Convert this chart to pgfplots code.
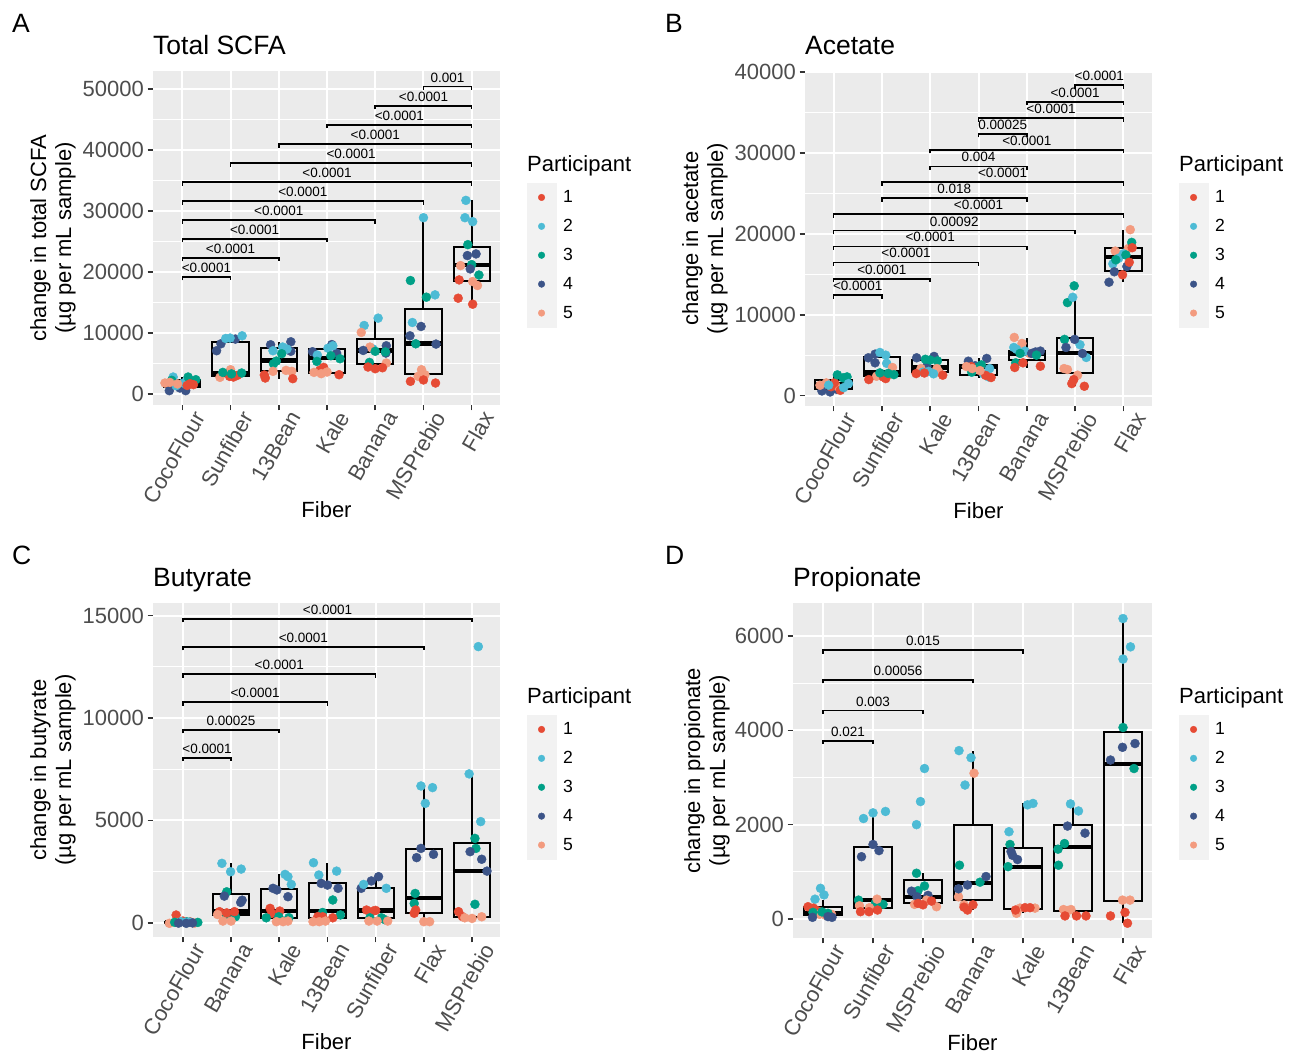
\documentclass[border=0pt]{standalone}
\usepackage{pgfplots}
\pgfplotsset{compat=1.18}
\usepackage{fontspec}
\setmainfont{Liberation Sans}

\definecolor{c1}{HTML}{E64B35}
\definecolor{c2}{HTML}{4DBBD5}
\definecolor{c3}{HTML}{00A087}
\definecolor{c4}{HTML}{3C5488}
\definecolor{c5}{HTML}{F39B7F}
\definecolor{ggpanel}{HTML}{EBEBEB}
\definecolor{ggkey}{HTML}{F2F2F2}
\definecolor{gg20}{HTML}{333333}
\definecolor{gg30}{HTML}{4D4D4D}

\newcommand\tickfont{\fontsize{22}{22}\selectfont}
\newcommand\labfont{\fontsize{22}{25}\selectfont}
\newcommand\titfont{\fontsize{26.5}{30}\selectfont}
\newcommand\legfont{\fontsize{17.6}{20}\selectfont}
\newcommand\brfont{\fontsize{13.5}{15}\selectfont}

% box: centre, left, right, lower whisker, lower quartile, median, upper quartile, upper whisker
\newcommand\bx[8]{%
  \addplot[black, line width=2pt] coordinates {(#1,#4) (#1,#5)};
  \addplot[black, line width=2pt] coordinates {(#1,#7) (#1,#8)};
  \addplot[black, line width=2pt, line join=miter] coordinates {(#2,#5) (#3,#5) (#3,#7) (#2,#7)} -- cycle;
  \addplot[black, line width=4.4pt] coordinates {(#2,#6) (#3,#6)};}
% significance bracket: from, to, height, label
\newcommand\br[4]{\draw[black, line width=1.6pt] (axis cs:#1,#3) ++(0pt,-3.5pt)
  -- (axis cs:#1,#3) -- node[above, inner sep=3.5pt, font=\brfont] {#4}
  (axis cs:#2,#3) -- ++(0pt,-3.5pt);}
\newcommand\legimgs{%
  \addlegendimage{c1}\addlegendimage{c2}\addlegendimage{c3}%
  \addlegendimage{c4}\addlegendimage{c5}}

\pgfplotsset{
  gg/.style={
    scale only axis, anchor=south west, clip=false, enlargelimits=false,
    axis background/.style={fill=ggpanel},
    axis line style={draw=none},
    tick pos=left, tick align=outside,
    major tick length=5.5pt, minor tick length=0pt,
    major tick style={gg20, line width=1.6pt},
    minor tick style={draw=none},
    xmajorgrids, ymajorgrids, yminorgrids,
    major grid style={white, line width=2pt},
    minor grid style={white, line width=1pt},
    minor y tick num=1,
    xtick={1,...,7},
    scaled y ticks=false,
    /pgf/number format/1000 sep={},
    /pgf/number format/assume math mode=true,
    tick label style={font=\tickfont, text=gg30},
    y tick label style={inner sep=3.5pt},
    x tick label style={xshift=9pt, yshift=4pt, rotate=60, anchor=north east, inner sep=2pt},
    title style={at={(axis description cs:0,1)}, anchor=base west,
      yshift=10pt, inner sep=0pt, font=\titfont},
    xlabel={Fiber},
    xlabel style={at={(axis description cs:0.5,0)}, anchor=base,
      yshift=-113pt, inner sep=0pt, font=\labfont},
    ylabel style={anchor=south, inner sep=0pt, align=center, font=\labfont},
    legend style={draw=none, fill=none, inner sep=0pt, outer sep=0pt,
      row sep=0pt, column sep=7pt, font=\legfont,
      at={(axis description cs:1,1)}, anchor=north west,
      xshift=27pt, yshift=-112pt, nodes={inner sep=0pt}, cells={anchor=west}},
    legend image code/.code={
      \fill[ggkey] (0pt,-14.25pt) rectangle (28.7pt,14.25pt);
      \path plot[mark=*, mark size=3.3pt] coordinates {(14.35pt,0pt)};},
  },
  ggpts/.style={scatter, only marks, mark=*, mark size=4.5pt,
    scatter src=explicit symbolic,
    scatter/classes={1={c1},2={c2},3={c3},4={c4},5={c5}}},
}

\begin{document}
\begin{tikzpicture}
\useasboundingbox (0,0) rectangle (1291pt,1054pt);

% ---------------- A: Total SCFA ----------------
\begin{axis}[gg, at={(153pt,649pt)}, width=347pt, height=334pt,
  xmin=0.392, xmax=7.587, ymin=-1803, ymax=52950,
  ytick={0,10000,...,50000},
  xticklabels={CocoFlour,Sunfiber,13Bean,Kale,Banana,MSPrebio,Flax},
  title={Total SCFA},
  ylabel={change in total SCFA\\(µg per mL sample)},
  ylabel style={at={(axis description cs:-0.222,0.5)}}]
\legimgs
\bx{1}{0.625}{1.375}{545}{1090}{1690}{2345}{2780}
\bx{2}{1.625}{2.375}{2730}{3000}{3330}{8450}{9540}
\bx{3}{2.625}{3.375}{2510}{3710}{5510}{7470}{8560}
\bx{4}{3.625}{4.375}{3160}{3440}{5940}{7360}{8100}
\bx{5}{4.625}{5.375}{4140}{4960}{7140}{9000}{12430}
\bx{6}{5.625}{6.375}{1800}{3330}{8290}{13900}{28900}
\bx{7}{6.625}{7.375}{14720}{18490}{21100}{24050}{31740}
\addplot[ggpts] table[meta=p] {
x y p
0.73 545 4
1.07 545 4
0.95 980 4
0.81 2780 2
0.87 1360 2
1.02 1800 2
1.12 2780 3
1.28 2345 3
0.78 2240 3
1.23 1530 1
1.16 1690 1
1.10 1400 1
0.64 1800 5
0.74 1900 5
0.90 1650 5
1.71 7090 4
1.80 8230 4
2.10 9000 4
1.90 9100 2
2.24 9540 2
1.99 9160 2
1.78 2730 5
2.00 3980 5
2.09 3000 5
1.98 2890 1
2.06 2780 1
2.14 3050 1
2.23 3440 3
1.84 3540 3
2.02 3300 3
2.83 8070 4
3.25 8560 4
3.25 7000 4
2.88 7090 2
3.17 7360 2
3.08 7700 2
3.06 6600 3
2.89 4960 3
2.95 5400 3
2.88 3710 5
3.15 3870 5
3.27 3710 5
2.72 2620 1
2.70 3110 1
3.29 2510 1
3.70 6930 4
4.10 8100 4
4.20 6700 4
3.80 6380 2
4.12 7900 2
4.02 7500 2
4.08 6270 3
4.27 5780 3
3.79 5340 3
3.93 4360 1
4.25 3160 1
3.85 3900 1
3.73 3540 5
3.88 3330 5
4.00 3600 5
5.06 12430 2
4.77 11230 2
4.95 7400 2
4.71 10090 5
4.89 7690 5
5.23 5070 5
4.75 7140 4
5.23 7900 4
5.22 6710 4
4.88 5180 3
5.21 6900 3
5.00 7000 3
4.85 4420 1
5.00 4140 1
5.15 4300 1
6.00 28900 2
6.24 16250 2
5.77 11720 2
5.73 18600 3
6.06 15870 3
5.84 8230 3
5.95 11070 4
5.72 9540 4
6.26 8180 4
5.96 3980 5
5.89 2890 5
6.03 3160 5
5.73 2070 1
6.25 1800 1
6.00 2300 1
6.88 31740 2
6.86 28900 2
7.02 28250 2
6.92 24480 3
7.00 21210 3
7.15 19500 3
6.91 22690 4
7.09 22960 4
6.97 20500 4
6.77 21050 5
7.02 18430 5
7.12 17780 5
6.74 18700 1
6.72 15700 1
7.02 14720 1
};
\br{1}{2}{19195}{<0.0001}
\br{1}{3}{22300}{<0.0001}
\br{1}{4}{25410}{<0.0001}
\br{1}{5}{28520}{<0.0001}
\br{1}{6}{31630}{<0.0001}
\br{1}{7}{34740}{<0.0001}
\br{2}{7}{37840}{<0.0001}
\br{3}{7}{40950}{<0.0001}
\br{4}{7}{44110}{<0.0001}
\br{5}{7}{47220}{<0.0001}
\br{6}{7}{50390}{0.001}
\legend{1,2,3,4,5}
\end{axis}

% ---------------- B: Acetate ----------------
\begin{axis}[gg, at={(805pt,648pt)}, width=347pt, height=335pt,
  xmin=0.41, xmax=7.59, ymin=-1280, ymax=40160,
  ytick={0,10000,...,40000},
  xticklabels={CocoFlour,Sunfiber,Kale,13Bean,Banana,MSPrebio,Flax},
  title={Acetate},
  ylabel={change in acetate\\(µg per mL sample)},
  ylabel style={at={(axis description cs:-0.222,0.5)}}]
\legimgs
\bx{1}{0.625}{1.375}{455}{790}{1410}{1990}{2570}
\bx{2}{1.625}{2.375}{1990}{2400}{2860}{4720}{5340}
\bx{3}{2.625}{3.375}{2530}{2940}{3480}{4390}{4850}
\bx{4}{3.625}{4.375}{2240}{2530}{3560}{3770}{4600}
\bx{5}{4.625}{5.375}{3480}{4390}{5220}{5550}{7080}
\bx{6}{5.625}{6.375}{1160}{2820}{5300}{7080}{12170}
\bx{7}{6.625}{7.375}{14030}{15480}{17140}{18260}{20530}
\addplot[ggpts] table[meta=p] {
x y p
0.76 580 4
0.93 455 4
1.07 780 4
0.85 1570 5
0.72 1280 5
1.05 1200 5
1.14 660 1
1.02 1600 1
0.95 1100 1
1.08 2570 3
1.28 2320 3
1.20 2200 3
1.21 990 2
1.31 1490 2
0.90 1300 2
1.72 4680 4
1.86 5130 4
1.86 4060 4
1.96 5340 2
2.08 5010 2
2.10 4000 2
2.22 3480 5
1.89 2400 5
2.17 2650 5
1.73 1990 1
2.08 2110 1
2.03 2300 1
1.96 2820 3
2.13 2750 3
2.25 2600 3
2.72 4680 4
3.08 4850 4
2.93 3640 4
2.90 4500 3
3.00 4400 3
3.15 4300 3
2.81 3350 5
3.14 3350 5
3.18 2900 5
2.97 3000 2
3.07 2700 2
2.85 2900 2
2.71 2730 1
3.26 2530 1
2.88 2800 1
3.79 4260 4
4.17 4600 4
3.93 3700 4
4.06 3800 3
3.99 3500 3
3.86 2900 3
4.23 3350 2
4.21 2320 2
4.10 2700 2
4.26 2240 1
3.85 3600 1
4.15 2500 1
3.87 3350 5
4.03 3100 5
3.75 3600 5
4.74 7200 5
4.90 6460 5
5.06 5200 5
4.73 5960 2
4.79 5720 2
4.96 5510 2
5.28 5510 4
5.10 5220 4
5.18 5400 4
4.77 4060 3
4.86 5220 3
5.20 5010 3
4.75 3480 1
5.28 3640 1
4.92 4060 1
5.98 13580 3
5.84 11510 3
5.78 6960 3
5.95 12170 2
6.23 4720 2
6.10 6300 2
5.99 6960 4
5.81 5960 4
6.15 5220 4
5.77 3350 5
5.84 3230 5
6.05 2530 5
5.93 1490 1
6.19 1160 1
5.97 1980 1
7.14 20530 5
6.83 17880 5
7.10 18200 5
7.00 17550 2
6.78 16310 2
6.90 17000 2
7.17 18960 3
6.84 16800 3
7.05 17400 3
7.07 15980 4
6.81 15320 4
6.70 14030 4
6.98 14950 1
7.18 18300 1
7.12 16500 1
};
\br{1}{2}{12420}{<0.0001}
\br{1}{3}{14450}{<0.0001}
\br{1}{4}{16480}{<0.0001}
\br{1}{5}{18460}{<0.0001}
\br{1}{6}{20410}{0.00092}
\br{1}{7}{22440}{<0.0001}
\br{2}{5}{24430}{0.018}
\br{2}{7}{26410}{<0.0001}
\br{3}{5}{28360}{0.004}
\br{3}{7}{30390}{<0.0001}
\br{4}{5}{32370}{0.00025}
\br{4}{7}{34320}{<0.0001}
\br{5}{7}{36350}{<0.0001}
\br{6}{7}{38420}{<0.0001}
\legend{1,2,3,4,5}
\end{axis}

% ---------------- C: Butyrate ----------------
\begin{axis}[gg, at={(153pt,117pt)}, width=347pt, height=334pt,
  xmin=0.38, xmax=7.58, ymin=-698, ymax=15620,
  ytick={0,5000,10000,15000},
  xticklabels={CocoFlour,Banana,Kale,13Bean,Sunfiber,Flax,MSPrebio},
  title={Butyrate},
  ylabel={change in butyrate\\(µg per mL sample)},
  ylabel style={at={(axis description cs:-0.222,0.5)}}]
\legimgs
\bx{1}{0.625}{1.375}{-30}{0}{15}{45}{110}
\bx{2}{1.625}{2.375}{80}{375}{540}{1400}{2900}
\bx{3}{2.625}{3.375}{50}{210}{570}{1630}{2360}
\bx{4}{3.625}{4.375}{50}{210}{570}{1920}{2930}
\bx{5}{4.625}{5.375}{80}{210}{600}{1680}{2250}
\bx{6}{5.625}{6.375}{50}{490}{1220}{3580}{6680}
\bx{7}{6.625}{7.375}{210}{290}{2520}{3880}{7270}
\addplot[ggpts] table[meta=p] {
x y p
0.86 375 1
1.00 80 1
1.15 40 1
0.72 -30 5
1.24 -20 5
0.90 10 5
0.83 20 3
1.31 15 3
1.08 40 3
0.96 50 2
1.14 30 2
1.05 20 2
1.07 -30 4
0.91 -20 4
1.20 -10 4
1.81 2900 2
1.99 2490 2
2.21 2620 2
1.91 1510 3
2.09 290 3
1.90 400 3
1.86 1300 4
2.20 990 4
2.23 1100 4
1.76 540 1
1.91 480 1
2.07 540 1
1.83 80 5
2.00 80 5
1.72 400 5
3.12 2360 2
3.18 2250 2
3.25 1870 2
2.87 1680 4
2.95 1600 4
3.18 1270 4
2.81 700 1
3.01 570 1
2.84 450 1
2.73 240 3
2.99 290 3
3.20 250 3
2.94 50 5
3.08 50 5
3.18 80 5
3.71 2930 2
3.82 2330 2
4.19 2520 2
3.87 1920 4
4.00 1840 4
4.22 1680 4
4.11 1110 3
4.27 380 3
3.90 500 3
3.90 290 1
4.11 240 1
3.80 300 1
3.70 50 5
3.83 50 5
3.96 80 5
5.06 2250 4
4.91 2040 4
4.70 1680 4
4.75 1870 2
5.22 1680 2
4.81 620 1
4.95 570 1
5.00 600 1
4.88 240 3
5.12 240 3
5.19 150 3
4.86 80 5
5.25 80 5
5.03 80 5
5.94 6680 2
6.18 6600 2
6.03 5830 2
5.94 3630 4
5.85 3180 4
6.20 3340 4
5.82 1430 3
5.80 940 3
5.83 620 1
5.80 460 1
6.00 50 5
6.12 50 5
7.13 13490 2
6.94 7270 2
7.18 4940 2
7.06 4120 3
7.08 3630 3
7.06 900 3
6.96 3470 4
7.20 3100 4
7.31 2520 4
6.72 540 1
6.80 300 1
6.85 240 5
7.00 210 5
7.20 290 5
};
\br{1}{2}{8060}{<0.0001}
\br{1}{3}{9420}{0.00025}
\br{1}{4}{10770}{<0.0001}
\br{1}{5}{12140}{<0.0001}
\br{1}{6}{13470}{<0.0001}
\br{1}{7}{14840}{<0.0001}
\legend{1,2,3,4,5}
\end{axis}

% ---------------- D: Propionate ----------------
\begin{axis}[gg, at={(793pt,116pt)}, width=359pt, height=335pt,
  xmin=0.4, xmax=7.58, ymin=-403, ymax=6700,
  ytick={0,2000,4000,6000},
  xticklabels={CocoFlour,Sunfiber,MSPrebio,Banana,Kale,13Bean,Flax},
  title={Propionate},
  ylabel={change in propionate\\(µg per mL sample)},
  ylabel style={at={(axis description cs:-0.1755,0.5)}}]
\legimgs
\bx{1}{0.625}{1.375}{35}{85}{120}{250}{400}
\bx{2}{1.625}{2.375}{155}{240}{400}{1520}{2280}
\bx{3}{2.625}{3.375}{260}{330}{460}{830}{970}
\bx{4}{3.625}{4.375}{190}{400}{760}{1990}{3570}
\bx{5}{4.625}{5.375}{120}{205}{1100}{1500}{2450}
\bx{6}{5.625}{6.375}{65}{175}{1520}{1990}{2440}
\bx{7}{6.625}{7.375}{-90}{380}{3290}{3970}{6370}
\addplot[ggpts] table[meta=p] {
x y p
0.95 650 2
1.02 510 2
0.84 420 2
0.70 260 1
0.81 230 1
0.90 170 1
0.93 100 5
1.17 100 5
1.05 80 5
0.80 140 3
1.10 120 3
0.98 150 3
0.79 35 4
1.18 35 4
1.10 50 4
2.00 2250 2
1.81 2130 2
2.25 2280 2
2.00 1580 4
2.12 1450 4
1.77 1320 4
1.71 400 3
2.20 310 3
2.05 350 3
2.08 420 5
1.93 240 5
1.73 280 5
1.75 155 1
1.92 155 1
2.09 190 1
3.03 3190 2
2.95 2490 2
2.87 2000 2
2.87 970 3
3.03 700 3
2.90 600 3
2.77 590 4
2.88 470 4
3.10 500 4
2.83 310 5
3.27 260 5
3.07 400 5
2.90 330 1
3.17 380 1
3.00 300 1
3.72 3570 2
3.96 3420 2
3.84 2840 2
4.02 3090 5
3.71 470 5
3.82 300 5
3.73 1140 3
4.14 780 3
4.26 900 4
3.89 720 4
3.71 640 4
3.89 190 1
3.82 250 1
4.00 300 1
5.09 2420 2
5.20 2450 2
4.72 1850 2
4.74 1580 3
4.70 1110 3
4.76 1430 4
4.79 1350 4
4.89 1260 4
4.87 120 5
4.94 230 5
5.24 230 5
5.04 240 1
5.14 240 1
4.85 190 1
5.95 2440 2
6.11 2290 2
5.89 1970 4
6.24 1820 4
5.83 1600 3
5.70 1480 3
5.71 1140 3
5.81 200 5
5.96 200 5
5.90 180 5
5.84 65 1
6.07 65 1
6.26 65 1
7.00 6370 2
7.15 5770 2
7.00 5510 2
7.00 4060 3
7.22 3190 3
7.24 3720 4
6.99 3640 4
6.75 3370 4
6.99 400 5
7.14 400 5
7.04 140 1
6.75 65 1
7.09 -90 1
};
\br{1}{2}{3780}{0.021}
\br{1}{3}{4420}{0.003}
\br{1}{4}{5070}{0.00056}
\br{1}{5}{5700}{0.015}
\legend{1,2,3,4,5}
\end{axis}

% panel tags and legend titles
\node[anchor=base west, inner sep=0pt, font=\titfont] at (12pt,1021pt) {A};
\node[anchor=base west, inner sep=0pt, font=\titfont] at (665pt,1021pt) {B};
\node[anchor=base west, inner sep=0pt, font=\titfont] at (12pt,489pt) {C};
\node[anchor=base west, inner sep=0pt, font=\titfont] at (665pt,489pt) {D};
\node[anchor=base west, inner sep=0pt, font=\labfont] at (527pt,882pt) {Participant};
\node[anchor=base west, inner sep=0pt, font=\labfont] at (1179pt,882pt) {Participant};
\node[anchor=base west, inner sep=0pt, font=\labfont] at (527pt,350pt) {Participant};
\node[anchor=base west, inner sep=0pt, font=\labfont] at (1179pt,350pt) {Participant};
\end{tikzpicture}
\end{document}
